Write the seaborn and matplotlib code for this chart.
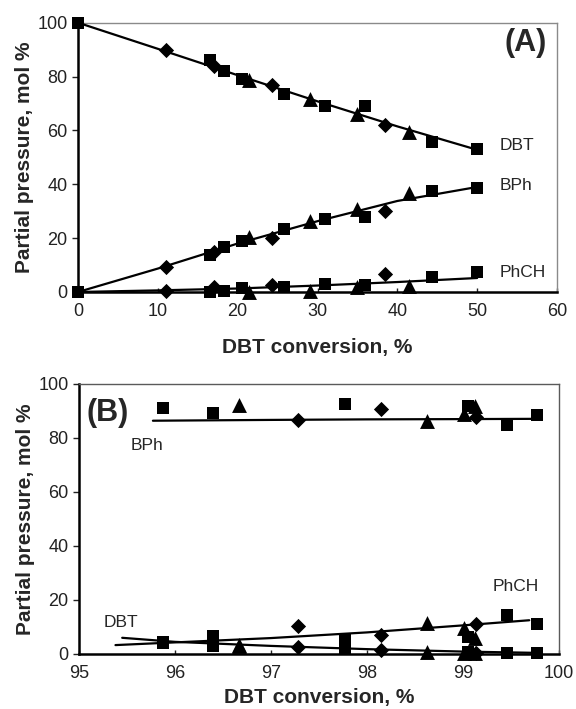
import matplotlib
matplotlib.use("Agg")
import matplotlib.pyplot as plt
import seaborn as sns

# ---- Panel A : DBT conversion 0-50 %
a_sq_x = [0, 16.5, 18.3, 20.5, 25.8, 31.0, 36.0, 44.4, 50.0]
a_sq_dbt = [100, 86.0, 81.9, 79.0, 73.5, 68.9, 68.9, 55.6, 53.0]
a_sq_bph = [0, 13.6, 16.6, 19.1, 23.5, 27.1, 27.8, 37.5, 38.5]
a_sq_phch = [0, 0.0, 0.5, 1.4, 2.0, 2.9, 2.6, 5.7, 7.3]

a_di_x = [11.0, 17.0, 24.3, 38.5]
a_di_dbt = [89.7, 83.8, 76.7, 62.0]
a_di_bph = [9.4, 15.0, 20.0, 30.2]
a_di_phch = [0.5, 1.7, 2.6, 6.6]

a_tr_x = [21.4, 29.1, 35.0, 41.4]
a_tr_dbt = [78.8, 71.6, 66.0, 59.4]
a_tr_bph = [20.3, 26.5, 30.7, 36.7]
a_tr_phch = [0.0, 0.2, 1.7, 2.2]

# fitted curves
a_fit_x = [0, 10, 20, 30, 40, 50]
a_fit_dbt = [100, 90.3, 80.5, 70.8, 61.5, 52.8]
a_fit_bph = [0, 8.7, 18.0, 26.3, 33.8, 39.0]
a_fit_phch = [0, 0.6, 1.3, 2.4, 3.7, 5.2]

# ---- Panel B : DBT conversion 95-100 %
b_sq_x = [95.88, 96.40, 97.77, 99.05, 99.46, 99.77]
b_sq_bph = [91.0, 89.4, 92.6, 91.9, 84.8, 88.5]
b_sq_dbt = [4.0, 3.0, 2.1, 0.8, 0.5, 0.4]
b_sq_phch = [4.3, 6.7, 5.2, 6.4, 14.4, 11.0]

b_di_x = [97.28, 98.15, 99.14]
b_di_bph = [86.7, 90.7, 87.7]
b_di_dbt = [2.7, 1.5, 0.5]
b_di_phch = [10.4, 7.0, 11.0]

b_tr_x = [96.67, 98.63, 99.01, 99.12]
b_tr_bph = [92.2, 86.4, 88.9, 91.9]
b_tr_dbt = [3.0, 0.9, 0.5, 0.5]
b_tr_phch = [3.3, 11.3, 9.5, 6.0]

# fitted curves
b_fit_bph_x = [95.77, 97.0, 98.0, 99.0, 99.77]
b_fit_bph = [86.4, 86.7, 86.9, 87.0, 87.1]
b_fit_dbt_x = [95.45, 96.0, 97.0, 98.0, 99.0, 99.8]
b_fit_dbt = [6.0, 4.5, 3.0, 1.8, 0.9, 0.4]
b_fit_phch_x = [95.38, 96.0, 97.0, 98.0, 99.0, 99.69]
b_fit_phch = [3.3, 4.3, 5.9, 8.0, 10.6, 12.5]

sns.set_style("ticks")
plt.rcParams["font.family"] = ["Liberation Sans", "DejaVu Sans"]

W, H = 576, 709
fig = plt.figure(figsize=(W / 100, H / 100), dpi=100)
axA = fig.add_axes([78 / W, 1 - 292 / H, (557 - 78) / W, (292 - 22.7) / H])
axB = fig.add_axes([79 / W, 1 - 654 / H, (559 - 79) / W, (654 - 384) / H])

# marker areas (pt^2)
markers = {"s": 85, "D": 60, "^": 115}


def draw_points(ax, x, ys, m):
    for y in ys:
        sns.scatterplot(x=x, y=y, marker=m, s=markers[m], color="black",
                        linewidth=0, ax=ax, clip_on=False, zorder=5)


def draw_fit(ax, x, y):
    sns.lineplot(x=x, y=y, color="black", linewidth=1.6, ax=ax,
                 sort=False, estimator=None, zorder=3)


# panel A
for y in [a_fit_dbt, a_fit_bph, a_fit_phch]:
    draw_fit(axA, a_fit_x, y)
draw_points(axA, a_sq_x, [a_sq_dbt, a_sq_bph, a_sq_phch], "s")
draw_points(axA, a_di_x, [a_di_dbt, a_di_bph, a_di_phch], "D")
draw_points(axA, a_tr_x, [a_tr_dbt, a_tr_bph, a_tr_phch], "^")
axA.set_xlim(0, 60)
axA.set_ylim(0, 100)
axA.set_xticks(range(0, 61, 10))
axA.set_yticks(range(0, 101, 20))
axA.text(52.8, 54.4, "DBT", fontsize=12.5, va="center", ha="left")
axA.text(52.8, 39.5, "BPh", fontsize=12.5, va="center", ha="left")
axA.text(52.8, 7.3, "PhCH", fontsize=12.5, va="center", ha="left")
axA.text(0.978, 0.926, "(A)", transform=axA.transAxes, fontsize=22,
         fontweight="bold", ha="right", va="center")

# panel B
draw_fit(axB, b_fit_bph_x, b_fit_bph)
draw_fit(axB, b_fit_dbt_x, b_fit_dbt)
draw_fit(axB, b_fit_phch_x, b_fit_phch)
draw_points(axB, b_sq_x, [b_sq_bph, b_sq_dbt, b_sq_phch], "s")
draw_points(axB, b_di_x, [b_di_bph, b_di_dbt, b_di_phch], "D")
draw_points(axB, b_tr_x, [b_tr_bph, b_tr_dbt, b_tr_phch], "^")
axB.set_xlim(95, 100)
axB.set_ylim(0, 100)
axB.set_xticks(range(95, 101))
axB.set_yticks(range(0, 101, 20))
axB.text(95.54, 77.4, "BPh", fontsize=12.5, va="center", ha="left")
axB.text(99.31, 24.9, "PhCH", fontsize=12.5, va="center", ha="left")
axB.text(95.26, 11.7, "DBT", fontsize=12.5, va="center", ha="left")
axB.text(0.016, 0.893, "(B)", transform=axB.transAxes, fontsize=22,
         fontweight="bold", ha="left", va="center")

for ax, edge in [(axA, "#8a8a8a"), (axB, "#5a5a5a")]:
    for s in ["left", "bottom"]:
        ax.spines[s].set_color("black")
        ax.spines[s].set_linewidth(1.8)
    for s in ["top", "right"]:
        ax.spines[s].set_color(edge)
        ax.spines[s].set_linewidth(1.0)
    ax.tick_params(axis="x", direction="in", length=3, width=1, pad=8,
                   labelsize=13, colors="#222222")
    ax.tick_params(axis="y", direction="out", length=4.5, width=1, pad=3,
                   labelsize=13, colors="#222222")
    ax.set_xlabel("DBT conversion, %", fontsize=15, fontweight="bold",
                  va="top")
    ax.set_ylabel("Partial pressure, mol %", fontsize=15, fontweight="bold")
    ax.yaxis.set_label_coords(-0.092, 0.5)

axA.xaxis.set_label_coords(0.5, -0.171)
axB.xaxis.set_label_coords(0.5, -0.126)

fig.savefig("out.png", dpi=100)
